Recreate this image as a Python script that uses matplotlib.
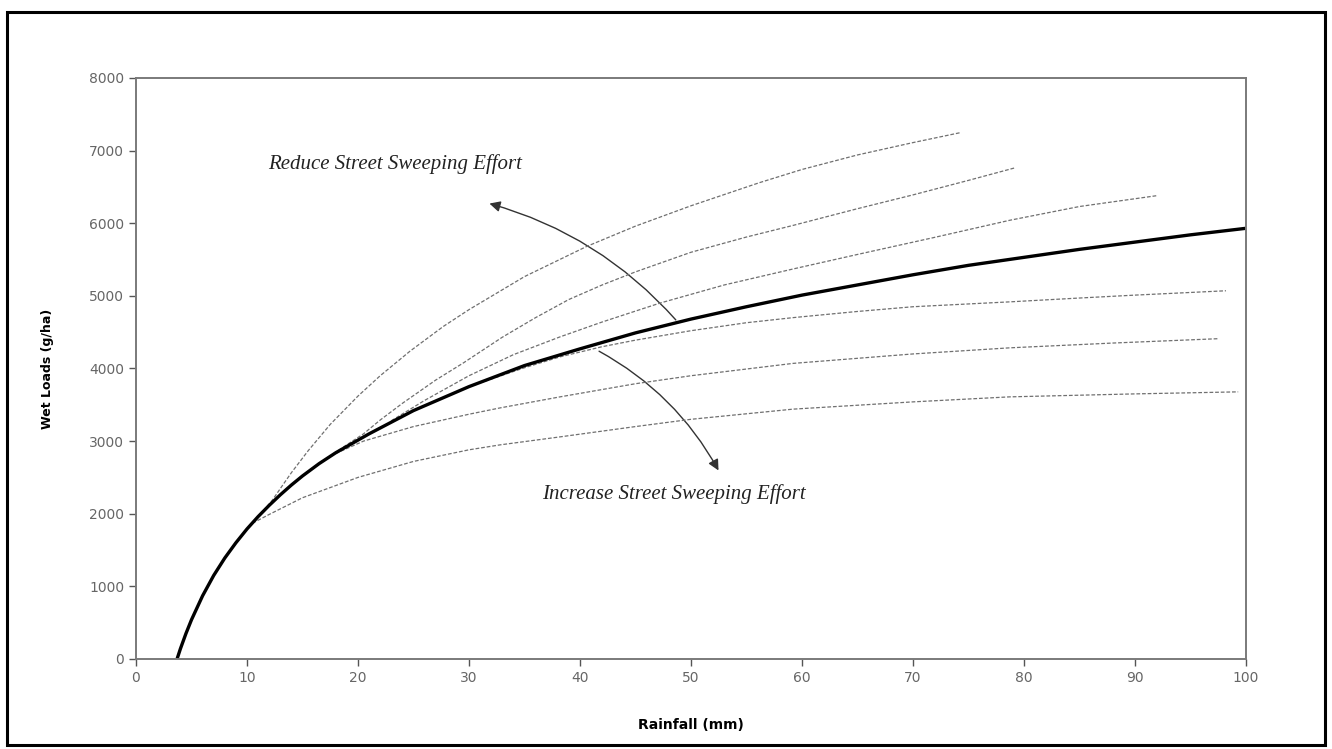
import matplotlib
matplotlib.use('Agg')
import matplotlib.pyplot as plt
from matplotlib.patches import FancyArrowPatch, Rectangle

# main curve (thick black)
main_x = [3.7, 4.0, 4.5, 5, 6, 7, 8, 9, 10, 11, 12, 13, 14, 15, 16.5, 18, 21, 25, 30, 35, 40, 45, 50, 55,
          60, 65, 70, 75, 80, 85, 90, 95, 100]
main_y = [0, 140, 350, 540, 870, 1150, 1390, 1600, 1790, 1960, 2115, 2260, 2395, 2520, 2690, 2840, 3100,
          3420, 3750, 4040, 4270, 4490, 4680, 4850, 5010, 5150, 5290, 5420, 5530, 5640, 5740, 5840, 5930]

# reduced sweeping curves (above)
up1_x = [10.5, 11.3, 12.3, 13.2, 14, 15.5, 17.5, 20, 22, 24.7, 27.7, 30, 35, 40.6, 45, 50, 56.2, 60, 65, 70, 74.2]
up1_y = [1870, 2010, 2190, 2390, 2565, 2865, 3230, 3620, 3900, 4240, 4580, 4810, 5265, 5680, 5960, 6240, 6560,
         6740, 6940, 7110, 7245]

up2_x = [17, 18.5, 20.5, 22, 24, 27, 29.5, 33, 36, 39, 42, 45, 50, 55, 59.2, 65, 70, 75, 79.2]
up2_y = [2740, 2900, 3100, 3290, 3520, 3840, 4077, 4430, 4700, 4950, 5150, 5330, 5600, 5810, 5970, 6200, 6390,
         6590, 6763]

up3_x = [23, 26, 30, 34, 38.2, 42, 47.2, 53, 59.2, 65, 71.8, 78.7, 85, 92]
up3_y = [3280, 3560, 3900, 4190, 4435, 4640, 4900, 5150, 5370, 5570, 5800, 6040, 6230, 6380]

# increased sweeping curves (below)
low1_x = [30, 35, 38.2, 42, 45, 50, 55, 59.2, 65, 70, 78.7, 85, 90, 98.2]
low1_y = [3750, 4010, 4160, 4300, 4390, 4520, 4630, 4700, 4785, 4850, 4917, 4970, 5010, 5070]

low2_x = [18, 20.5, 25, 30, 32.8, 38.2, 45, 50, 59.2, 70, 78.7, 88, 97.5]
low2_y = [2830, 3000, 3200, 3370, 3457, 3609, 3790, 3900, 4070, 4200, 4284, 4350, 4410]

low3_x = [10.5, 12, 15, 20, 25, 30, 32.8, 38.2, 45, 50, 59.2, 70, 78.7, 90, 99.3]
low3_y = [1870, 1990, 2220, 2500, 2720, 2880, 2948, 3058, 3200, 3300, 3440, 3540, 3609, 3650, 3678]

fig = plt.figure(figsize=(13.32, 7.49), dpi=100)
ax = fig.add_axes([0.1021, 0.1202, 0.8333, 0.7757])

dash = (0, (3, 1.5))
for xs, ys in [(up1_x, up1_y), (up2_x, up2_y), (up3_x, up3_y),
               (low1_x, low1_y), (low2_x, low2_y), (low3_x, low3_y)]:
    ax.plot(xs, ys, color='#707070', linewidth=0.9, linestyle=dash)

ax.plot(main_x, main_y, color='black', linewidth=2.4, solid_capstyle='butt')

ax.set_xlim(0, 100)
ax.set_ylim(0, 8000)
ax.set_xticks(range(0, 101, 10))
ax.set_yticks(range(0, 8001, 1000))
ax.tick_params(direction='out', length=5, width=1, color='#555555',
               labelcolor='#666666', labelsize=10)
for s in ax.spines.values():
    s.set_color('#7a7a7a')
    s.set_linewidth(1.4)

ax.set_xlabel('Rainfall (mm)', fontsize=10, fontweight='bold', labelpad=24)
ax.set_ylabel('Wet Loads (g/ha)', fontsize=9, fontweight='bold', labelpad=25)

ax.text(11.9, 6810, 'Reduce Street Sweeping Effort', fontsize=15, style='italic',
        family='Liberation Serif', color='#222222', va='center')
ax.text(36.6, 2273, 'Increase Street Sweeping Effort', fontsize=15, style='italic',
        family='Liberation Serif', color='#222222', va='center')

ax.add_patch(FancyArrowPatch((48.8, 4640), (31.6, 6281), arrowstyle='-|>', mutation_scale=16,
                             connectionstyle='arc3,rad=0.15', color='#333333', linewidth=1.0))
ax.add_patch(FancyArrowPatch((41.5, 4256), (52.6, 2562), arrowstyle='-|>', mutation_scale=16,
                             connectionstyle='arc3,rad=-0.15', color='#333333', linewidth=1.0))

# black frame round the whole figure
fig.patches.append(Rectangle((0.005, 0.006), 0.99, 0.978, transform=fig.transFigure,
                             fill=False, edgecolor='black', linewidth=2.2))

fig.savefig('out.png', dpi=100)
